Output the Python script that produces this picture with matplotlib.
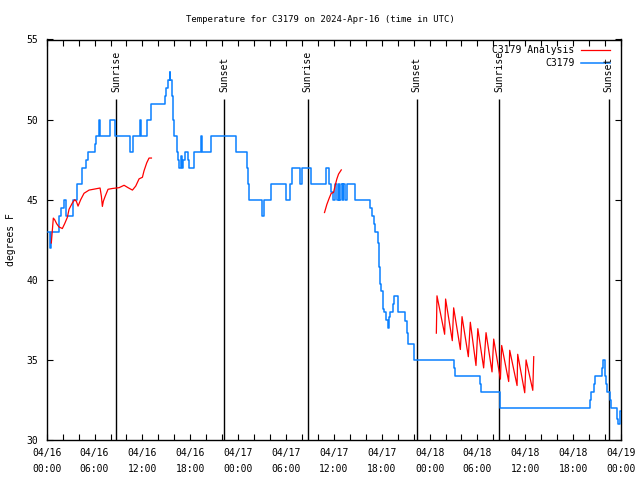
import matplotlib
matplotlib.use("Agg")
import matplotlib.pyplot as plt
import numpy as np

# ---------------- data (hours since 2024-04-16 00:00 UTC) ----------------
obs_t = [0.16, 0.41, 0.58, 1.54, 1.75, 2.17, 2.38, 3.34, 3.84, 4.47, 4.89, 5.22, 6.06, 6.23,
         6.56, 6.7, 7.94, 8.57, 10.45, 10.87, 11.7, 11.87, 12.55, 13.13, 14.84, 15.0, 15.2,
         15.4, 15.5, 15.65, 15.85, 16.0, 16.3, 16.5, 16.64, 16.8, 16.95, 17.1, 17.35, 17.7,
         17.9, 18.5, 19.3, 19.5, 20.6, 23.75, 25.1, 25.2, 25.35, 27.05, 27.3, 28.14, 30.05,
         30.45, 30.7, 31.75, 32.05, 33.1, 35.05, 35.42, 35.6, 35.84, 36.17, 36.38, 36.59,
         36.7, 36.93, 37.1, 37.2, 37.43, 37.64, 38.6, 40.48, 40.78, 41.0, 41.19, 41.48, 41.6,
         41.82, 41.95, 42.1, 42.32, 42.57, 42.74, 42.86, 43.07, 43.37, 43.49, 44.1, 44.96,
         45.17, 45.3, 46.1, 51.02, 51.2, 54.3, 54.5, 56.78, 68.1, 68.25, 68.6, 68.8, 69.6,
         69.75, 69.96, 70.1, 70.25, 70.6, 70.8, 71.45, 71.6, 71.85, 71.97]
obs_v = [43, 42, 43, 44, 44.5, 45, 44, 45, 46, 47, 47.5, 48, 48.5, 49,
         50, 49, 50, 49, 48, 49, 50, 49, 50, 51, 51.5, 52, 52.5,
         53, 52.5, 51.5, 50, 49, 48, 47.5, 47, 47.7, 47, 47.5, 48, 47.5,
         47, 48, 49, 48, 49, 48, 47, 46, 45, 44, 45, 46, 45,
         46, 47, 46, 47, 46, 47, 46, 45.5, 45, 46, 45, 46,
         45, 46, 45, 46, 45, 46, 45, 44.5, 44, 43.5, 43, 42.3, 40.8,
         39.75, 39.3, 38.2, 38, 37.5, 37, 37.7, 38, 38.5, 39, 38, 37.4,
         36.7, 36, 35, 34.5, 34, 33.5, 33, 32, 32.5, 33, 33.5, 34, 34.5,
         35, 34, 33.5, 33, 32.5, 32, 31.3, 31, 31.8, 31.8]

ana1_t = [0.58, 0.83, 1.0, 1.25, 1.54, 1.96, 2.25, 2.59, 2.8, 3.22, 3.51, 3.72, 3.93, 4.26,
          4.68, 5.31, 5.85, 6.69, 6.86, 6.98, 7.1, 7.32, 7.69, 8.23, 9.07, 9.7, 10.2, 10.75,
          11.16, 11.58, 12.0, 12.2, 12.54, 12.83, 13.13]
ana1_v = [42.3, 43.85, 43.75, 43.5, 43.3, 43.2, 43.5, 43.9, 44.4, 44.8, 45.0, 44.9, 44.6, 45.0,
          45.4, 45.6, 45.65, 45.73, 45.2, 44.58, 44.9, 45.2, 45.65, 45.7, 45.75, 45.9, 45.75, 45.6,
          45.85, 46.3, 46.4, 46.8, 47.3, 47.6, 47.6]

ana2_t = [34.83, 35.12, 35.42, 35.67, 35.96, 36.17, 36.38, 36.59, 36.93]
ana2_v = [44.2, 44.7, 45.1, 45.4, 45.45, 45.9, 46.3, 46.6, 46.86]

ana3_t = [48.85, 48.93, 49.89, 50.01, 50.85, 51.02, 51.86, 52.07, 52.86, 53.11, 53.82, 54.05,
          54.78, 55.08, 55.83, 56.04, 56.88, 57.04, 57.92, 58.05, 58.97, 59.05, 59.93, 60.10,
          60.94, 61.06]
ana3_v = [36.67, 39.0, 36.6, 38.8, 36.2, 38.25, 35.65, 37.7, 35.2, 37.35, 34.65, 36.95,
          34.5, 36.7, 34.25, 36.3, 33.8, 35.9, 33.65, 35.6, 33.4, 35.35, 32.95, 35.0,
          33.1, 35.2]

sunrise_t = [8.75, 32.73, 56.75]
sunset_t = [22.25, 46.4, 70.47]

tick_hours = [0, 6, 12, 18, 24, 30, 36, 42, 48, 54, 60, 66, 72]
tick_labels = ["04/16\n00:00", "04/16\n06:00", "04/16\n12:00", "04/16\n18:00",
               "04/17\n00:00", "04/17\n06:00", "04/17\n12:00", "04/17\n18:00",
               "04/18\n00:00", "04/18\n06:00", "04/18\n12:00", "04/18\n18:00",
               "04/19\n00:00"]
y_ticks = [30, 35, 40, 45, 50, 55]

# ---------------- plot ----------------
plt.rcParams['font.family'] = ['DejaVu Sans Mono']
FS = 7
BLUE = '#0a80ff'
RED = '#ff0000'

fig = plt.figure(figsize=(6.4, 4.8), dpi=100)
ax = fig.add_axes([46.7 / 640, 1 - 440 / 480, (621 - 46.7) / 640, (440 - 39.5) / 480])

ax.plot(obs_t, obs_v, drawstyle='steps-post', color=BLUE, lw=1.1, zorder=3)
for t, v in ((ana1_t, ana1_v), (ana2_t, ana2_v), (ana3_t, ana3_v)):
    ax.plot(t, v, color=RED, lw=0.9, zorder=4)

for t in sunrise_t:
    ax.vlines(t, 30, 51.3, color='black', lw=1.0, zorder=2)
    ax.text(t, 51.72, "Sunrise", rotation=90, ha='center', va='bottom', fontsize=FS)
for t in sunset_t:
    ax.vlines(t, 30, 51.3, color='black', lw=1.0, zorder=2)
    ax.text(t, 51.72, "Sunset", rotation=90, ha='center', va='bottom', fontsize=FS)

ax.set_xlim(0, 72)
ax.set_ylim(30, 55)
ax.set_xticks(tick_hours)
ax.set_xticklabels(tick_labels, fontsize=FS, linespacing=1.75)
ax.set_xticks(np.arange(0, 73, 2), minor=True)
ax.set_yticks(y_ticks)
ax.set_yticklabels([str(v) for v in y_ticks], fontsize=FS)
ax.tick_params(which='both', direction='in', top=True, right=True, length=4, width=0.8,
               pad=6)
for s in ax.spines.values():
    s.set_linewidth(1.0)

ax.set_ylabel("degrees F", fontsize=FS, labelpad=8)
fig.text(0.5, 1 - 19 / 480, "Temperature for C3179 on 2024-Apr-16 (time in UTC)",
         ha='center', va='center', fontsize=6.5)

# legend (gnuplot style: text then sample)
ax.text(0.919, 1 - (50 - 39.5) / 400.5, "C3179 Analysis", transform=ax.transAxes,
        ha='right', va='center', fontsize=FS)
ax.plot([0.931, 0.980], [1 - (50 - 39.5) / 400.5] * 2, transform=ax.transAxes,
        color=RED, lw=0.9)
ax.text(0.919, 1 - (62.5 - 39.5) / 400.5, "C3179", transform=ax.transAxes,
        ha='right', va='center', fontsize=FS)
ax.plot([0.931, 0.980], [1 - (62.5 - 39.5) / 400.5] * 2, transform=ax.transAxes,
        color=BLUE, lw=1.1)

fig.savefig("out.png", dpi=100)
